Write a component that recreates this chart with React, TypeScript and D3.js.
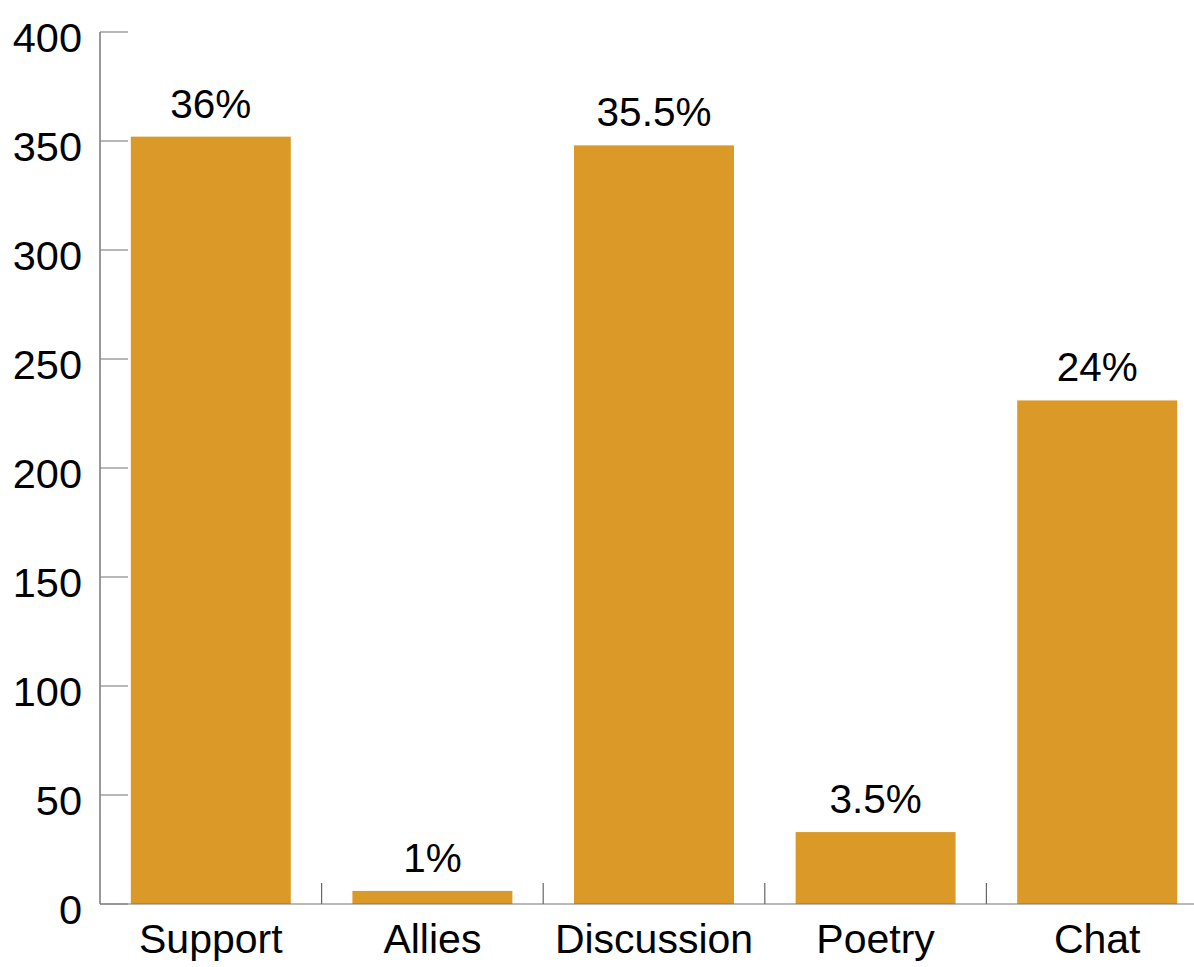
import React from "react";
import * as d3 from "d3";

const categories = ["Support", "Allies", "Discussion", "Poetry", "Chat"];
const values = [352, 6, 348, 33, 231];
const percentLabels = ["36%", "1%", "35.5%", "3.5%", "24%"];
const yTicks = [0, 50, 100, 150, 200, 250, 300, 350, 400];

const W = 1194;
const H = 967;
const left = 100;
const right = 1208;
const top = 32;
const bottom = 904;
const FONT = "'Liberation Sans', Arial, Helvetica, sans-serif";
const BAR = "#DB9A28";

export default function App() {
  const x = d3
    .scaleBand<string>()
    .domain(categories)
    .range([left, right])
    .paddingInner(0.278)
    .paddingOuter(0.139);
  const y = d3.scaleLinear().domain([0, 400]).range([bottom, top]);
  const step = x.step();
  const boundaries = categories.slice(1).map((c) => (x(c) as number) - step * 0.139);

  return (
    <svg
      width={W}
      height={H}
      style={{ position: "absolute", left: 0, top: 0, display: "block", background: "#fff" }}
      fontFamily={FONT}
    >
      {/* bars */}
      {categories.map((c, i) => (
        <rect
          key={c}
          x={x(c)}
          y={y(values[i])}
          width={x.bandwidth()}
          height={y(0) - y(values[i])}
          fill={BAR}
        />
      ))}
      {/* y axis */}
      <line x1={left} x2={left} y1={y(400)} y2={y(0)} stroke="#555" strokeWidth={1.2} />
      {yTicks.map((t) => (
        <g key={t}>
          <line x1={left} x2={left + 28} y1={y(t)} y2={y(t)} stroke="#888" strokeWidth={1.2} />
          <text x={82} y={y(t) + 19.5} textAnchor="end" fontSize={41.5} fill="#000">
            {t}
          </text>
        </g>
      ))}
      {/* x axis */}
      <line x1={left} x2={W} y1={y(0)} y2={y(0)} stroke="#777" strokeWidth={1.2} />
      {boundaries.map((b, i) => (
        <line key={i} x1={b} x2={b} y1={y(0)} y2={y(0) - 21} stroke="#666" strokeWidth={1.2} />
      ))}
      {categories.map((c) => (
        <text
          key={c}
          x={(x(c) as number) + x.bandwidth() / 2}
          y={953}
          textAnchor="middle"
          fontSize={41}
          fill="#000"
        >
          {c}
        </text>
      ))}
      {/* value labels */}
      {categories.map((c, i) => (
        <text
          key={c}
          x={(x(c) as number) + x.bandwidth() / 2}
          y={y(values[i]) - 19}
          textAnchor="middle"
          fontSize={40.5}
          fill="#000"
        >
          {percentLabels[i]}
        </text>
      ))}
    </svg>
  );
}
